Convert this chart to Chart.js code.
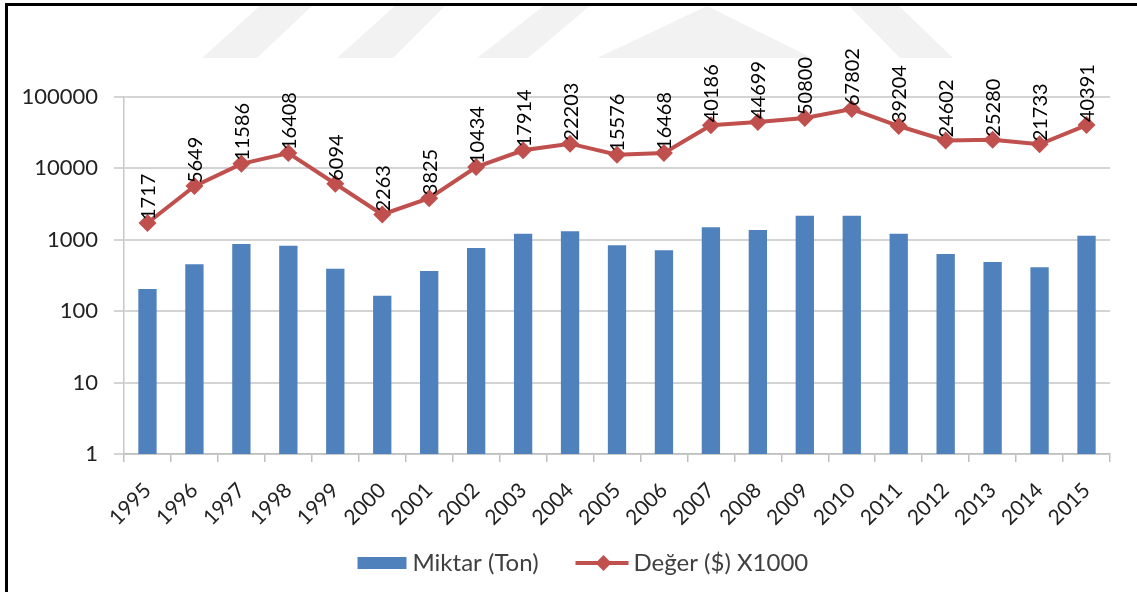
<!DOCTYPE html>
<html>
<head>
<meta charset="utf-8">
<script src="https://cdn.jsdelivr.net/npm/chart.js@4.4.1/dist/chart.umd.min.js"></script>
<style>
  html, body { margin: 0; padding: 0; background: #fff; }
  #wrap { position: relative; width: 1137px; height: 592px; }
</style>
</head>
<body>
<div id="wrap"><canvas id="c" width="1137" height="592"></canvas></div>
<script>
const years = ["1995","1996","1997","1998","1999","2000","2001","2002","2003","2004","2005","2006","2007","2008","2009","2010","2011","2012","2013","2014","2015"];
const miktarTon = [204, 454, 873, 827, 394, 165, 366, 768, 1218, 1315, 836, 712, 1497, 1372, 2180, 2170, 1218, 633, 489, 412, 1141];
const degerX1000 = [1717, 5649, 11586, 16408, 6094, 2263, 3825, 10434, 17914, 22203, 15576, 16468, 40186, 44699, 50800, 67802, 39204, 24602, 25280, 21733, 40391];
const yTicks = [1, 10, 100, 1000, 10000, 100000];
const seriesNames = ["Miktar (Ton)", "Değer ($) X1000"];

const BLUE = '#4f81bd';
const RED = '#c0504d';
const FONT = 'Lato, "Open Sans", sans-serif';

const watermark = {
  id: 'watermark',
  beforeDraw(chart) {
    const ctx = chart.ctx;
    ctx.save();
    ctx.beginPath();
    ctx.rect(0, 4, chart.width, 54);
    ctx.clip();
    ctx.fillStyle = '#f2f2f2';
    const polys = [
      [[202,58],[257,58],[314,4],[262,4]],
      [[337,58],[393,58],[447,4],[397,4]],
      [[477,58],[528,58],[592,4],[546,4]],
      [[597,58],[812,58],[707,6]],
      [[900,58],[953,58],[897,4],[847,4]]
    ];
    polys.forEach(p => {
      ctx.beginPath();
      ctx.moveTo(p[0][0], p[0][1]);
      for (let i = 1; i < p.length; i++) ctx.lineTo(p[i][0], p[i][1]);
      ctx.closePath();
      ctx.fill();
    });
    ctx.restore();
  }
};

const labelsPlugin = {
  id: 'valueLabels',
  afterDatasetsDraw(chart) {
    const ctx = chart.ctx;
    const meta = chart.getDatasetMeta(1);
    const data = chart.data.datasets[1].data;
    ctx.save();
    ctx.font = '20px ' + FONT;
    ctx.fillStyle = '#000';
    ctx.textAlign = 'left';
    ctx.textBaseline = 'middle';
    meta.data.forEach((pt, i) => {
      ctx.save();
      ctx.translate(pt.x + 1, pt.y - 3);
      ctx.rotate(-Math.PI / 2);
      ctx.fillText(String(data[i]), 0, 0);
      ctx.restore();
    });
    ctx.restore();
  }
};

const frameLegend = {
  id: 'frameLegend',
  afterDraw(chart) {
    const ctx = chart.ctx;
    ctx.save();
    ctx.fillStyle = '#000';
    ctx.fillRect(5, 3, chart.width - 5, 3);
    ctx.fillRect(5, 3, 3, chart.height - 3);
    const cy = 563;
    const x0 = chart.width / 2 - 211;
    ctx.fillStyle = BLUE;
    ctx.fillRect(x0, cy - 6, 49, 12);
    ctx.font = '24px ' + FONT;
    ctx.fillStyle = '#404040';
    ctx.textAlign = 'left';
    ctx.textBaseline = 'middle';
    ctx.fillText(seriesNames[0], x0 + 55, cy);
    const x1 = x0 + 218;
    ctx.strokeStyle = RED;
    ctx.lineWidth = 4;
    ctx.beginPath();
    ctx.moveTo(x1, cy);
    ctx.lineTo(x1 + 53, cy);
    ctx.stroke();
    ctx.fillStyle = RED;
    ctx.beginPath();
    const dx = x1 + 28;
    ctx.moveTo(dx - 8, cy); ctx.lineTo(dx, cy - 8); ctx.lineTo(dx + 8, cy); ctx.lineTo(dx, cy + 8);
    ctx.closePath();
    ctx.fill();
    ctx.fillStyle = '#404040';
    ctx.fillText(seriesNames[1], x1 + 58, cy);
    ctx.restore();
  }
};

new Chart(document.getElementById('c'), {
  type: 'bar',
  data: {
    labels: years,
    datasets: [
      {
        type: 'bar',
        label: seriesNames[0],
        data: miktarTon,
        backgroundColor: BLUE,
        borderWidth: 0,
        barPercentage: 0.39,
        categoryPercentage: 1.0,
        order: 2
      },
      {
        type: 'line',
        label: seriesNames[1],
        data: degerX1000,
        borderColor: RED,
        backgroundColor: RED,
        borderWidth: 4,
        tension: 0,
        pointStyle: 'rectRot',
        pointRadius: 9,
        pointBorderWidth: 0,
        pointBackgroundColor: RED,
        order: 1
      }
    ]
  },
  options: {
    responsive: false,
    animation: false,
    devicePixelRatio: 1,
    layout: { padding: { left: 0, right: 27, top: 97, bottom: 47 } },
    plugins: {
      legend: { display: false },
      tooltip: { enabled: false }
    },
    scales: {
      x: {
        type: 'category',
        offset: true,
        grid: {
          offset: true,
          drawOnChartArea: false,
          drawTicks: true,
          tickLength: 8,
          color: '#bfbfbf',
          lineWidth: 1.5
        },
        border: { display: true, color: '#bfbfbf', width: 1.5 },
        ticks: {
          autoSkip: false,
          minRotation: 45,
          maxRotation: 45,
          padding: 16,
          color: '#222',
          font: { family: FONT, size: 21 }
        },
        afterFit(scale) { scale.height = 91; }
      },
      y: {
        type: 'logarithmic',
        min: 1,
        max: 100000,
        afterBuildTicks(scale) {
          scale.ticks = yTicks.map(v => ({ value: v }));
        },
        grid: {
          color: '#d4d4d4',
          lineWidth: 2,
          drawTicks: true,
          tickLength: 10
        },
        border: { display: true, color: '#c8c8c8', width: 1.5 },
        ticks: {
          padding: 16,
          color: '#222',
          font: { family: FONT, size: 22 },
          callback: (v) => String(v)
        },
        afterFit(scale) { scale.width = 124; }
      }
    }
  },
  plugins: [watermark, labelsPlugin, frameLegend]
});
</script>
</body>
</html>
